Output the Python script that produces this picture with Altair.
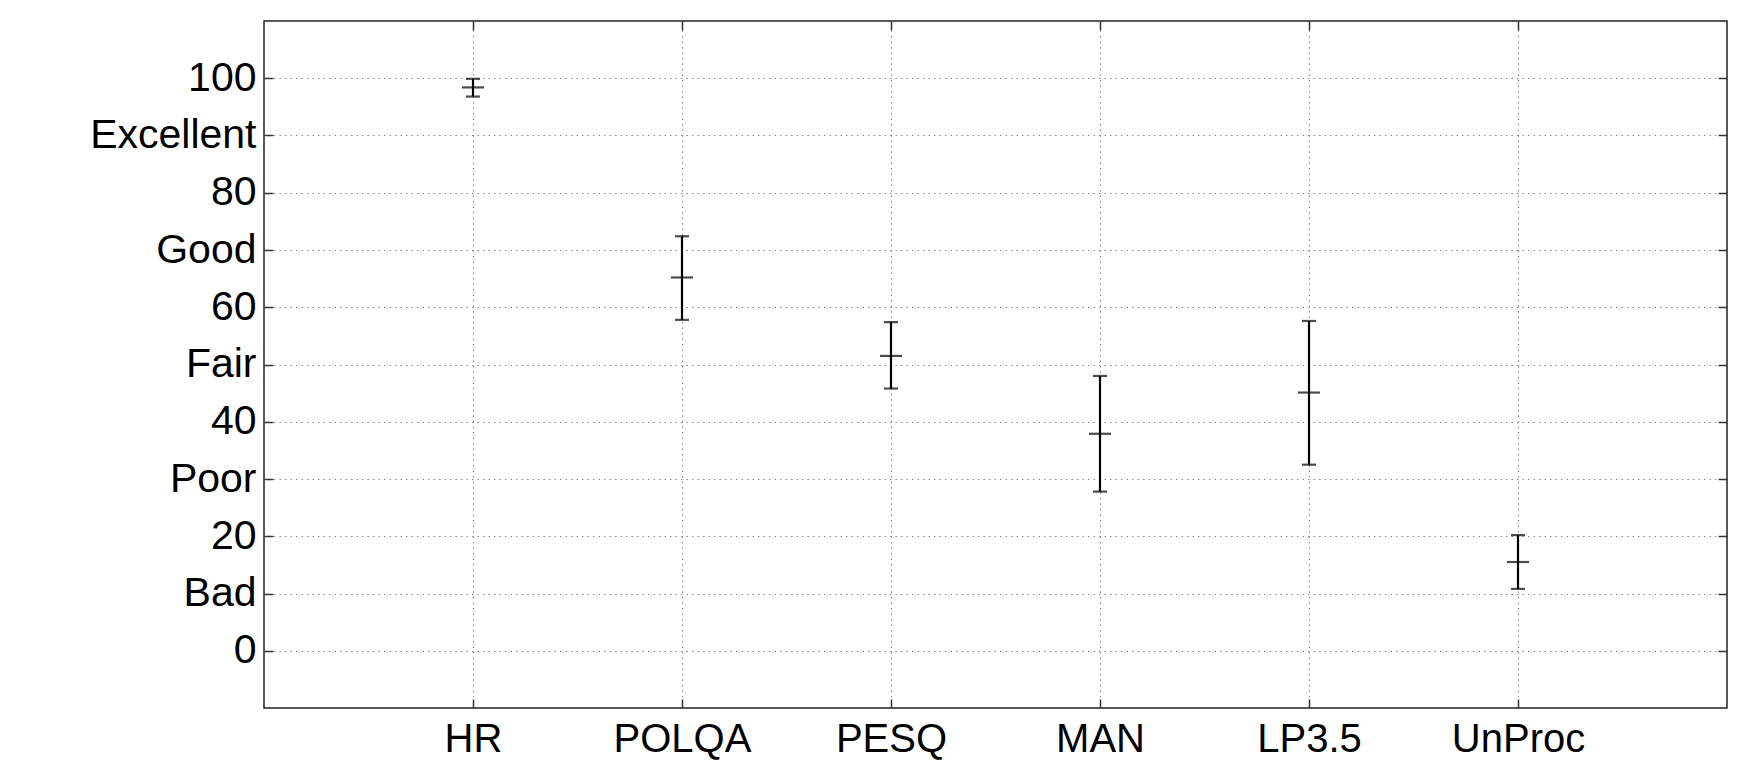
import altair as alt
import pandas as pd

categories = ["HR", "POLQA", "PESQ", "MAN", "LP3.5", "UnProc"]
mean_vals = [98.4, 65.2, 51.5, 37.9, 45.1, 15.5]
low_vals = [96.8, 57.8, 45.8, 27.8, 32.5, 10.8]
high_vals = [99.9, 72.4, 57.4, 48.0, 57.6, 20.2]

y_ticks = [0, 10, 20, 30, 40, 50, 60, 70, 80, 90, 100]
y_word_ticks = [10, 30, 50, 70, 90]
y_words = ["Bad", "Poor", "Fair", "Good", "Excellent"]

df = pd.DataFrame({"cat": categories, "mean": mean_vals, "low": low_vals, "high": high_vals})

label_expr = "".join(f"datum.value == {v} ? '{w}' : " for v, w in zip(y_word_ticks, y_words)) + "datum.label"

FONT = "Liberation Sans"
TICK = 9

xscale = alt.Scale(type="point", padding=1)
yscale = alt.Scale(domain=[-10, 110], nice=False, zero=False)

x_bottom = alt.Axis(orient="bottom", title=None, labelAngle=0, labelFontSize=40, labelFont=FONT,
                    labelColor="black", labelPadding=11, domain=False, grid=False,
                    ticks=True, tickSize=TICK, offset=-TICK, tickColor="#333", tickWidth=1.5)
y_left = alt.Axis(orient="left", title=None, values=y_ticks, labelExpr=label_expr, labelFontSize=41,
                  labelFont=FONT, labelColor="black", labelPadding=8, domain=False, grid=False,
                  ticks=True, tickSize=TICK, offset=-TICK, tickColor="#333", tickWidth=1.5)
x_top = alt.Axis(orient="top", title=None, labels=False, domain=False, grid=True,
                 gridDash=[1.5, 4], gridColor="#888", gridWidth=1,
                 ticks=True, tickSize=TICK, offset=-TICK, tickColor="#333", tickWidth=1.5)
y_right = alt.Axis(orient="right", title=None, values=y_ticks, labels=False, domain=False, grid=True,
                   gridDash=[1.5, 4], gridColor="#888", gridWidth=1,
                   ticks=True, tickSize=TICK, offset=-TICK, tickColor="#333", tickWidth=1.5)

base = alt.Chart(df)
xenc = alt.X("cat:N", sort=categories, scale=xscale, axis=x_bottom)

rule = base.mark_rule(color="black", strokeWidth=2.2).encode(
    x=xenc, y=alt.Y("low:Q", scale=yscale, axis=y_left), y2="high:Q")
cap_lo = base.mark_tick(color="black", size=14, thickness=2.2).encode(
    x=xenc, y=alt.Y("low:Q", scale=yscale, axis=y_left))
cap_hi = base.mark_tick(color="black", size=14, thickness=2.2).encode(
    x=xenc, y=alt.Y("high:Q", scale=yscale, axis=y_left))
center = base.mark_tick(color="black", size=22, thickness=2.2).encode(
    x=xenc, y=alt.Y("mean:Q", scale=yscale, axis=y_left))

inner = alt.layer(rule, cap_lo, cap_hi, center)

host = base.mark_point(opacity=0).encode(
    x=alt.X("cat:N", sort=categories, scale=xscale, axis=x_top),
    y=alt.Y("mean:Q", scale=yscale, axis=y_right))

chart = alt.layer(inner, host).resolve_axis(x="independent", y="independent").properties(
    width=1463, height=687,
    padding={"left": 256, "top": 13, "right": 10, "bottom": 54},
    autosize=alt.AutoSizeParams(type="none"),
).configure_view(stroke="#222", strokeWidth=1.5)

chart.save("out.html", embed_options={"renderer": "svg", "actions": False})
